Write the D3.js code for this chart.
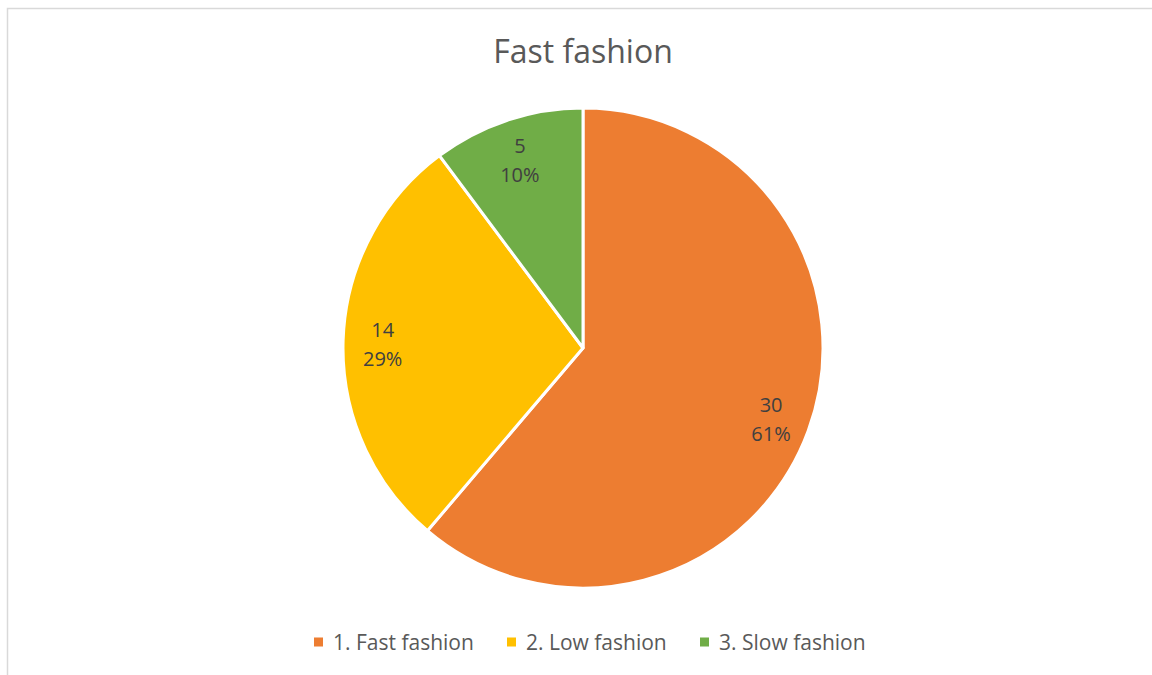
<!DOCTYPE html>
<html>
<head>
<meta charset="utf-8">
<script src="https://cdn.jsdelivr.net/npm/d3@7"></script>
<style>
  html, body { margin: 0; padding: 0; background: #fff; }
  svg { display: block; font-family: "Open Sans", Lato, sans-serif; }
</style>
</head>
<body>
<svg id="chart" width="1152" height="675"></svg>
<script>
const title = "Fast fashion";
const categories = ["1. Fast fashion", "2. Low fashion", "3. Slow fashion"];
const values = [30, 14, 5];
const colors = ["#ED7D31", "#FFC000", "#70AD47"];

const svg = d3.select("#chart");

// chart frame
svg.append("rect")
  .attr("x", 7.5).attr("y", 8.5)
  .attr("width", 1200).attr("height", 700)
  .attr("fill", "#fff").attr("stroke", "#d9d9d9").attr("stroke-width", 1.5);

svg.append("text")
  .attr("x", 583).attr("y", 63)
  .attr("text-anchor", "middle")
  .attr("font-size", 32)
  .attr("fill", "#595959")
  .text(title);

const cx = 583, cy = 348, R = 240;
const total = d3.sum(values);
const pie = d3.pie().sort(null).value(d => d)(values);
const arc = d3.arc().innerRadius(0).outerRadius(R);
const labelArc = d3.arc().innerRadius(R * 0.835).outerRadius(R * 0.835);

const g = svg.append("g").attr("transform", `translate(${cx},${cy})`);
g.selectAll("path.slice").data(pie).join("path")
  .attr("class", "slice")
  .attr("d", arc)
  .attr("fill", (d, i) => colors[i])
  .attr("stroke", "#fff").attr("stroke-width", 3).attr("stroke-linejoin", "round");

const fmtPct = v => Math.round(v / total * 100) + "%";
const labels = g.selectAll("g.lbl").data(pie).join("g")
  .attr("class", "lbl")
  .attr("transform", d => { const c = labelArc.centroid(d); return `translate(${c[0]},${c[1]})`; });
labels.append("text")
  .attr("text-anchor", "middle").attr("y", -5)
  .attr("font-size", 20).attr("fill", "#404040")
  .text(d => d.data);
labels.append("text")
  .attr("text-anchor", "middle").attr("y", 24)
  .attr("font-size", 20).attr("fill", "#404040")
  .text(d => fmtPct(d.data));

// legend
const legendX = [314, 507, 700];
const lg = svg.append("g").selectAll("g").data(categories).join("g")
  .attr("transform", (d, i) => `translate(${legendX[i]},642)`);
lg.append("rect").attr("x", 0).attr("y", -4.5).attr("width", 9).attr("height", 9)
  .attr("fill", (d, i) => colors[i]);
lg.append("text").attr("x", 19).attr("y", 7.5)
  .attr("font-size", 21).attr("fill", "#595959")
  .text(d => d);
</script>
</body>
</html>
